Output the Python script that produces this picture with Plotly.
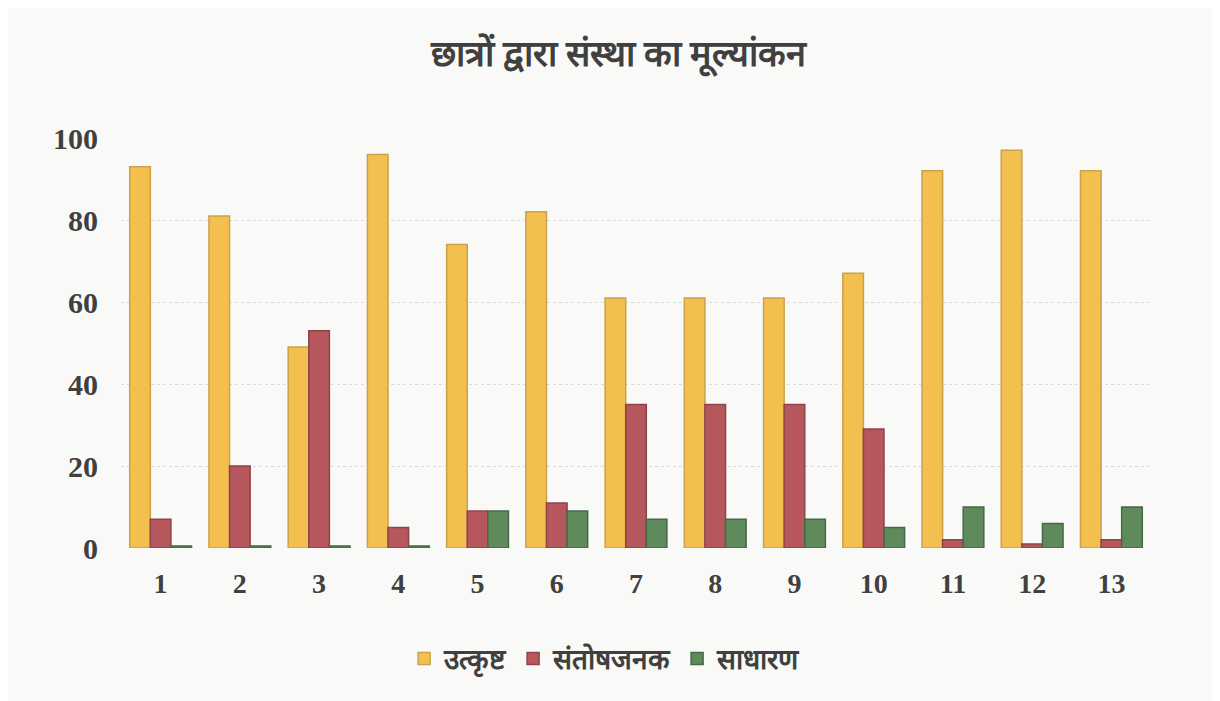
import plotly.graph_objects as go

categories = ["1", "2", "3", "4", "5", "6", "7", "8", "9", "10", "11", "12", "13"]
utkrisht = [93, 81, 49, 96, 74, 82, 61, 61, 61, 67, 92, 97, 92]
santoshjanak = [7, 20, 53, 5, 9, 11, 35, 35, 35, 29, 2, 1, 2]
sadharan = [0.5, 0.5, 0.5, 0.5, 9, 9, 7, 7, 7, 5, 10, 6, 10]

series_names = ["उत्कृष्ट", "संतोषजनक", "साधारण"]
colors = ["#F3C04F", "#B5575D", "#5F8A5B"]
edge = ["#C9A24A", "#8E4448", "#46684A"]

fig = go.Figure()
for name, vals, c, e in zip(series_names, [utkrisht, santoshjanak, sadharan], colors, edge):
    fig.add_trace(go.Bar(
        x=categories, y=vals, name=name,
        marker=dict(color=c, line=dict(color=e, width=1.5)),
    ))

font_serif = "Liberation Serif, DejaVu Serif, serif"
fig.update_layout(
    width=1220, height=701,
    paper_bgcolor="#F9F9F7",
    plot_bgcolor="#F9F9F7",
    barmode="group",
    bargap=0.22,
    bargroupgap=0.0,
    margin=dict(l=113, r=77, t=130, b=161),
    title=dict(text="<b>छात्रों द्वारा संस्था का मूल्यांकन</b>", x=0.5, xanchor="center",
               y=0.935, yanchor="middle",
               font=dict(size=36, color="#404040", family=font_serif)),
    xaxis=dict(
        type="category",
        tickfont=dict(size=28, color="#404040", family=font_serif, weight="bold"),
        showgrid=False, zeroline=False, showline=False,
        ticklabelstandoff=16,
    ),
    yaxis=dict(
        range=[0, 100], tickvals=[0, 20, 40, 60, 80, 100],
        tickfont=dict(size=30, color="#404040", family=font_serif, weight="bold"),
        showgrid=True, gridcolor="#DADADA", gridwidth=1, griddash="dot",
        zeroline=False, showline=False,
        ticklabelstandoff=22,
    ),
    legend=dict(orientation="h", x=0.47, xanchor="center", y=-0.27, yanchor="middle",
                font=dict(size=28, color="#404040", family=font_serif, weight="bold"),
                itemwidth=30, bgcolor="rgba(0,0,0,0)"),
)

fig.write_html("out.html")
